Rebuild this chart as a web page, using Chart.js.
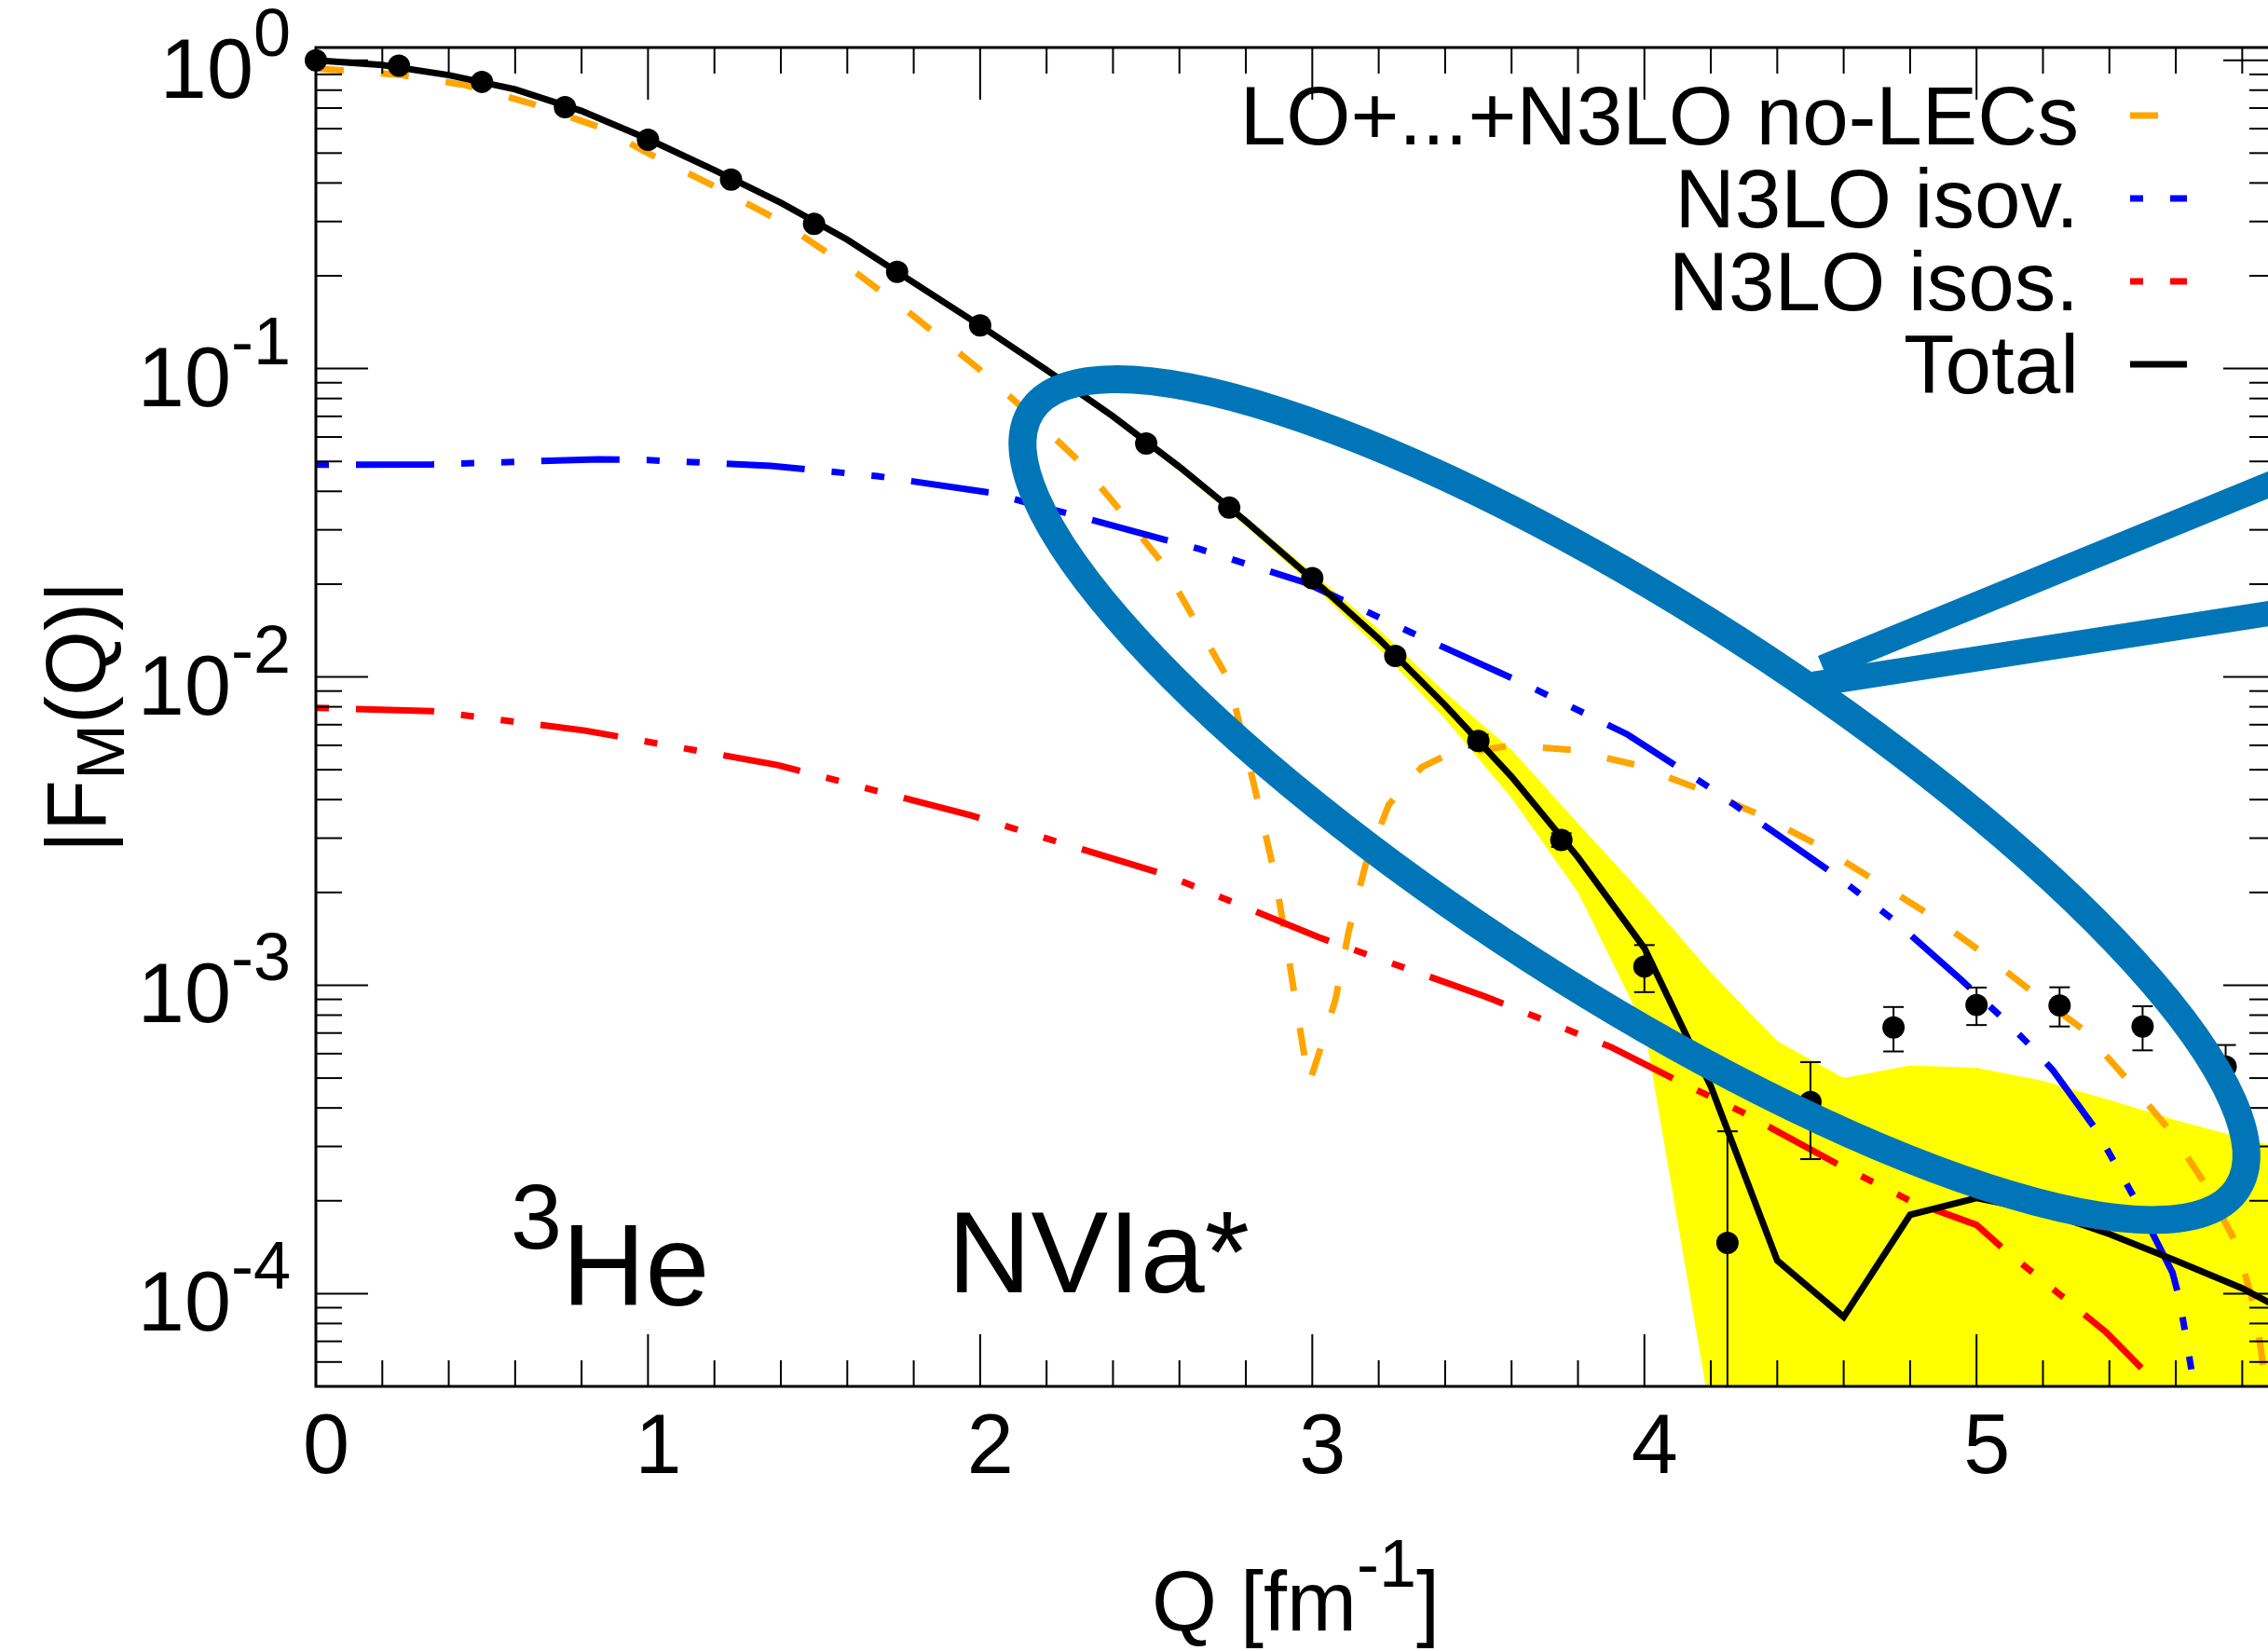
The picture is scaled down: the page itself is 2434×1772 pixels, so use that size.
<!DOCTYPE html>
<html>
<head>
<meta charset="utf-8">
<title>3He magnetic form factor</title>
<script src="https://cdn.jsdelivr.net/npm/chart.js@4.4.1/dist/chart.umd.min.js"></script>
<style>
  html, body { margin: 0; padding: 0; background: #ffffff; overflow: hidden; }
  #wrap { position: relative; width: 2460px; height: 1772px; }
  canvas { display: block; }
</style>
</head>
<body>
<div id="wrap"><canvas id="ff" width="2460" height="1772"></canvas></div>
<script>
// ---- axis setup -------------------------------------------------------
const qMin = 0, qMax = 5.9;
const fMin = 5e-5, fMax = 1.1;
const qTickLabels = [0, 1, 2, 3, 4, 5];
const fDecades = [0, -1, -2, -3, -4];

// ---- experimental |F_M(Q)| with errors -------------------------------
const expQ   = [0, 0.25, 0.5, 0.75, 1.0, 1.25, 1.5, 1.75, 2.0, 2.5, 2.75,
                3.0, 3.25, 3.5, 3.75, 4.0, 4.25, 4.5, 4.75, 5.0, 5.25, 5.5, 5.75];
const expF   = [1.0, 0.961, 0.851, 0.705, 0.552, 0.41, 0.295, 0.206, 0.138, 0.0572, 0.0354,
                0.0209, 0.0117, 0.0062, 0.00296, 0.00115, 1.46e-4, 4.18e-4, 7.3e-4, 8.63e-4, 8.6e-4, 7.35e-4, 5.45e-4];
const expErr = [0, 0, 0, 0, 0, 0, 0, 0, 0, 0, 0,
                0, 0, 3.0e-4, 1.5e-4, 2.0e-4, 1.9e-4, 1.45e-4, 1.2e-4, 1.2e-4, 1.25e-4, 1.2e-4, 0.95e-4];

// ---- LO+...+N3LO without LECs ----------------------------------------
const noLecQ = [0, 0.25, 0.45, 0.65, 0.85, 1.0, 1.2, 1.4, 1.6, 1.8, 2.0, 2.15, 2.3, 2.43, 2.55, 2.65, 2.75,
                2.84, 2.885, 2.92, 2.95, 2.99, 3.02, 3.07, 3.11, 3.16, 3.23, 3.33, 3.4, 3.6, 3.78, 3.97,
                4.16, 4.34, 4.52, 4.69, 4.86, 5.02, 5.18, 5.32, 5.45, 5.58, 5.68, 5.78, 5.84, 5.9];
const noLecF = [0.94, 0.898, 0.831, 0.723, 0.609, 0.5, 0.39, 0.30, 0.215, 0.148, 0.099, 0.071, 0.0498, 0.0338, 0.0233, 0.0150, 0.0097,
                0.0038, 0.00234, 0.00142, 8.8e-4, 4.8e-4, 6.0e-4, 9.0e-4, 1.5e-3, 2.45e-3, 3.85e-3, 5.1e-3, 5.55e-3, 6.0e-3, 5.8e-3, 5.2e-3,
                4.35e-3, 3.6e-3, 2.86e-3, 2.2e-3, 1.69e-3, 1.27e-3, 9.3e-4, 7.2e-4, 5.0e-4, 3.4e-4, 2.34e-4, 1.47e-4, 8.8e-5, 3.0e-5];

// ---- N3LO isovector ---------------------------------------------------
const isovQ = [0, 0.35, 0.85, 1.0, 1.37, 1.69, 2.03, 2.34, 2.66, 2.98, 3.3, 3.63, 3.95, 4.2, 4.38, 4.56,
               4.75, 4.95, 5.08, 5.16, 5.23, 5.36, 5.48, 5.59, 5.61, 5.63, 5.65, 5.68];
const isovF = [0.0488, 0.0489, 0.0508, 0.0505, 0.0484, 0.0448, 0.0396, 0.0322, 0.026, 0.0202, 0.0139, 0.0096, 0.0065, 0.00435, 3.19e-3, 2.34e-3,
               1.63e-3, 1.05e-3, 7.8e-4, 6.4e-4, 5.3e-4, 3.4e-4, 2.0e-4, 1.17e-4, 9.7e-5, 7.3e-5, 5.4e-5, 3.0e-5];

// ---- N3LO isoscalar ---------------------------------------------------
const isosQ = [0, 0.35, 0.81, 1.39, 1.97, 2.56, 3.02, 3.52, 3.9, 4.1, 4.29, 4.59, 4.8, 5.0, 5.08, 5.39, 5.52, 5.62];
const isosF = [7.94e-3, 7.74e-3, 6.7e-3, 5.18e-3, 3.56e-3, 2.28e-3, 1.43e-3, 9.2e-4, 6.3e-4, 4.9e-4, 3.9e-4, 2.6e-4, 2.0e-4, 1.67e-4, 1.4e-4, 7.5e-5, 5.4e-5, 3.5e-5];

// ---- total ------------------------------------------------------------
const totalQ = [0, 0.2, 0.4, 0.6, 0.8, 1.0, 1.2, 1.4, 1.6, 1.8, 2.0, 2.2, 2.4, 2.6, 2.8, 3.0,
                3.2, 3.4, 3.6, 3.8, 4.0, 4.2, 4.4, 4.6, 4.8, 5.0, 5.2, 5.4, 5.6, 5.8, 6.0];
const totalF = [1.0, 0.965, 0.895, 0.805, 0.685, 0.555, 0.44, 0.345, 0.262, 0.19, 0.138, 0.099, 0.07, 0.048, 0.032, 0.0208,
                0.0133, 0.0081, 4.75e-3, 2.6e-3, 1.32e-3, 4.7e-4, 1.28e-4, 8.4e-5, 1.8e-4, 2.04e-4, 1.85e-4, 1.56e-4, 1.28e-4, 1.04e-4, 8.0e-5];

// ---- theory uncertainty band -----------------------------------------
const bandQ  = [2.4, 2.6, 2.8, 3.0, 3.2, 3.4, 3.6, 3.8, 4.0, 4.2, 4.4, 4.6, 4.8, 5.0, 5.2, 5.4, 5.6, 5.8, 6.0];
const bandLo = [0.069, 0.0465, 0.0308, 0.0198, 0.0124, 7.3e-3, 4.05e-3, 2.0e-3, 7.3e-4, 4.0e-5,
                1e-6, 1e-6, 1e-6, 1e-6, 1e-6, 1e-6, 1e-6, 1e-6, 1e-6];
const bandHi = [0.071, 0.049, 0.033, 0.0218, 0.0143, 8.9e-3, 5.8e-3, 3.35e-3, 1.95e-3, 1.1e-3,
                6.6e-4, 5.0e-4, 5.5e-4, 5.4e-4, 4.9e-4, 4.25e-4, 3.65e-4, 3.2e-4, 2.8e-4];

// ---- styling ------------------------------------------------------------
const FONT = '"Liberation Sans", Arial, Helvetica, sans-serif';
const ORANGE = '#ffa500', BLUE = '#0000ff', RED = '#ff0000', BAND = '#ffff00', MARK = '#0076b8';
const LINE_W = 7;
const DASH_ORANGE = [30, 40];
const DASH_DOTDOT = [14, 29, 84, 29, 14, 29];

const pts = (xs, ys) => xs.map((q, i) => ({ x: q, y: ys[i] }));

const legendRows = [
  { text: 'LO+...+N3LO no-LECs', color: ORANGE, dash: DASH_ORANGE },
  { text: 'N3LO isov.',          color: BLUE,   dash: DASH_DOTDOT },
  { text: 'N3LO isos.',          color: RED,    dash: DASH_DOTDOT },
  { text: 'Total',               color: '#000', dash: [] },
];

const POINTS_INDEX = 6;

function rich(ctx, parts, x, y, align) {
  let w = 0;
  for (const p of parts) {
    ctx.font = p.size + 'px ' + FONT;
    p.w = ctx.measureText(p.t).width;
    w += p.w;
  }
  let cx = align === 'right' ? x - w : align === 'center' ? x - w / 2 : x;
  ctx.textAlign = 'left';
  ctx.textBaseline = 'alphabetic';
  for (const p of parts) {
    ctx.font = p.size + 'px ' + FONT;
    ctx.fillText(p.t, cx, y - (p.rise || 0));
    cx += p.w;
  }
}

function seg(ctx, x1, y1, x2, y2) {
  ctx.beginPath(); ctx.moveTo(x1, y1); ctx.lineTo(x2, y2); ctx.stroke();
}

const decor = {
  id: 'decor',
  beforeDatasetDraw(chart, args) {
    if (args.index !== POINTS_INDEX) return;
    const { ctx, chartArea: a, scales: { x, y } } = chart;
    ctx.save();
    ctx.beginPath(); ctx.rect(a.left, a.top, a.right - a.left, a.bottom - a.top); ctx.clip();
    ctx.strokeStyle = '#000'; ctx.lineWidth = 2;
    expQ.forEach((q, i) => {
      const e = expErr[i];
      if (!e) return;
      const px = x.getPixelForValue(q);
      const top = y.getPixelForValue(expF[i] + e);
      const low = expF[i] - e;
      const bot = low > 0 ? y.getPixelForValue(low) : a.bottom + 5;
      seg(ctx, px, top, px, bot);
      seg(ctx, px - 11, top, px + 11, top);
      if (low > 0) seg(ctx, px - 11, bot, px + 11, bot);
    });
    ctx.restore();
  },
  afterDraw(chart) {
    const { ctx, chartArea: a, scales: { x, y } } = chart;
    ctx.save();
    ctx.strokeStyle = '#000'; ctx.fillStyle = '#000';

    // tics on all four sides, pointing inwards
    ctx.lineWidth = 2;
    for (let k = 0; k <= 40; k++) {
      const q = k / 5;
      if (q > qMax + 1e-9) break;
      const px = x.getPixelForValue(q);
      const L = k % 5 === 0 ? 56 : 28;
      seg(ctx, px, a.bottom, px, a.bottom - L);
      seg(ctx, px, a.top, px, a.top + L);
    }
    for (let e = -5; e <= 0; e++) {
      for (let m = 1; m <= 9; m++) {
        const v = m * Math.pow(10, e);
        if (v < fMin * 0.999 || v > fMax) continue;
        const py = y.getPixelForValue(v);
        const L = m === 1 ? 56 : 28;
        seg(ctx, a.left, py, a.left + L, py);
        seg(ctx, a.right, py, a.right - L, py);
      }
    }
    ctx.lineWidth = 3;
    ctx.strokeRect(a.left, a.top, a.right - a.left, a.bottom - a.top);

    // tick labels
    ctx.font = '90px ' + FONT;
    ctx.textAlign = 'center'; ctx.textBaseline = 'alphabetic';
    qTickLabels.forEach(q => ctx.fillText(String(q), x.getPixelForValue(q) + 11, a.bottom + 93));
    fDecades.forEach(d => {
      const py = y.getPixelForValue(Math.pow(10, d));
      rich(ctx, [{ t: '10', size: 90 }, { t: String(d), size: 72, rise: 45 }], a.left - 27, py + 40, 'right');
    });

    // axis titles
    rich(ctx, [{ t: 'Q [fm', size: 90 }, { t: '-1', size: 72, rise: 47 }, { t: ']', size: 90 }],
         (a.left + a.right) / 2, a.bottom + 262, 'center');
    ctx.save();
    ctx.translate(113, (a.top + a.bottom) / 2);
    ctx.rotate(-Math.PI / 2);
    rich(ctx, [{ t: '|F', size: 90 }, { t: 'M', size: 72, rise: -20 }, { t: '(Q)|', size: 90 }], 0, 0, 'center');
    ctx.restore();

    // key
    legendRows.forEach((r, i) => {
      const base = 155 + i * 89;
      ctx.font = '89px ' + FONT;
      ctx.textAlign = 'right';
      ctx.fillStyle = '#000';
      ctx.fillText(r.text, 2231, base);
      ctx.save();
      ctx.strokeStyle = r.color; ctx.lineWidth = LINE_W; ctx.lineCap = 'butt';
      ctx.setLineDash(r.dash);
      seg(ctx, 2286, base - 31, 2347, base - 31);
      ctx.restore();
    });

    // in-plot labels
    ctx.fillStyle = '#000';
    rich(ctx, [{ t: '3', size: 99, rise: 61 }, { t: 'He', size: 124 }], 548, 1401, 'left');
    rich(ctx, [{ t: 'NVIa*', size: 124 }], 1017, 1387, 'left');

    // highlight ring and pointer
    ctx.strokeStyle = MARK; ctx.lineCap = 'butt';
    ctx.lineWidth = 30;
    const ex = x.getPixelForValue(3.97), ey = y.getPixelForValue(4.0e-3);
    ctx.beginPath();
    ctx.ellipse(ex, ey, 770, 204.5, 32.8 * Math.PI / 180, 0, 2 * Math.PI);
    ctx.stroke();
    const tx = x.getPixelForValue(4.52), ty = y.getPixelForValue(0.01);
    ctx.lineWidth = 27;
    seg(ctx, tx + 6, ty - 10, 2480, ty - 10 - (2480 - tx - 6) * 0.41);
    seg(ctx, tx - 6, ty + 8, 2480, ty + 8 - (2480 - tx + 6) * 0.155);
    ctx.restore();
  }
};

const lineDs = (label, xs, ys, color, dash, order) => ({
  label, data: pts(xs, ys), borderColor: color, borderWidth: LINE_W, borderDash: dash,
  pointRadius: 0, fill: false, order, clip: 0, borderCapStyle: 'butt'
});

new Chart(document.getElementById('ff'), {
  type: 'line',
  data: {
    datasets: [
      { label: 'band low', data: pts(bandQ, bandLo), borderWidth: 0, pointRadius: 0, fill: false, order: 10, borderColor: BAND },
      { label: 'band high', data: pts(bandQ, bandHi), borderWidth: 0, pointRadius: 0, fill: '-1', backgroundColor: BAND, order: 9, borderColor: BAND },
      lineDs('LO+...+N3LO no-LECs', noLecQ, noLecF, ORANGE, DASH_ORANGE, 6),
      lineDs('N3LO isov.', isovQ, isovF, BLUE, DASH_DOTDOT, 5),
      lineDs('N3LO isos.', isosQ, isosF, RED, DASH_DOTDOT, 4),
      lineDs('Total', totalQ, totalF, '#000000', [], 3),
      { label: 'data', data: pts(expQ, expF), showLine: false, pointRadius: 12, pointBackgroundColor: '#000',
        pointBorderWidth: 0, borderColor: '#000', order: 1, clip: false }
    ]
  },
  options: {
    responsive: false,
    animation: false,
    devicePixelRatio: 1,
    events: [],
    layout: { padding: { left: 339, top: 51, right: 18, bottom: 284 } },
    scales: {
      x: { type: 'linear', min: qMin, max: qMax, display: false },
      y: { type: 'logarithmic', min: fMin, max: fMax, display: false }
    },
    plugins: { legend: { display: false }, tooltip: { enabled: false } }
  },
  plugins: [decor]
});
</script>
</body>
</html>
